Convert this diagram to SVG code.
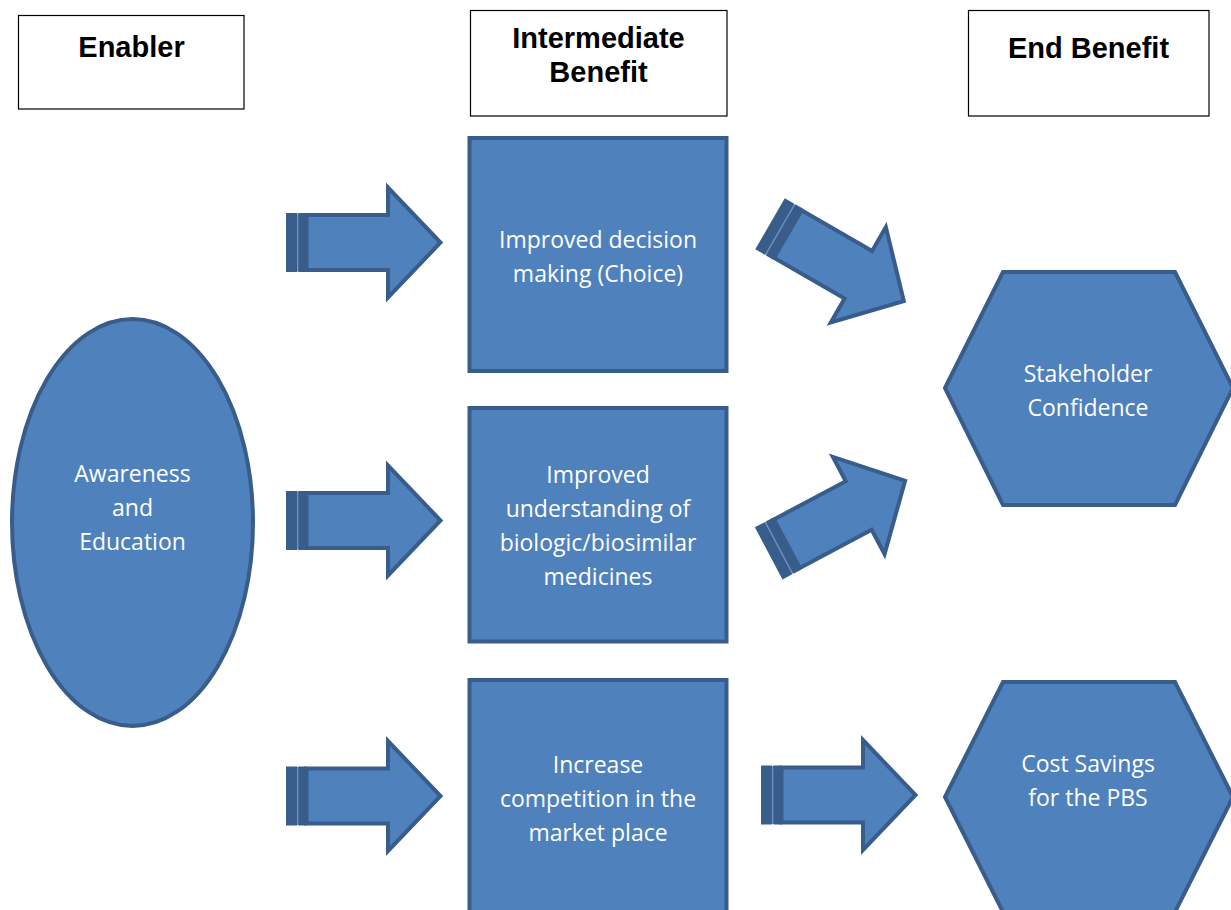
<svg xmlns="http://www.w3.org/2000/svg" width="1231" height="910" viewBox="0 0 1231 910">
<style>
.hdr{fill:#fff;stroke:#000;stroke-width:1.2}
.ht{font-family:"Liberation Sans",Arial,sans-serif;font-weight:bold;font-size:29px;fill:#000;text-anchor:middle}
.shape{fill:#4F81BD;stroke:#385D8A;stroke-width:4}
.bt{font-family:"Open Sans",sans-serif;font-size:23px;fill:#fff;text-anchor:middle}
.stripe{fill:#385D8A}
.gap{fill:#6F93C6}
.abody{fill:#4F81BD;stroke:#385D8A;stroke-width:4;stroke-linejoin:miter}
</style>
<defs>
<g id="sarrow">
<rect class="gap" x="-68" y="-29" width="2.5" height="58"/>
<rect class="stripe" x="-78.5" y="-29.5" width="11" height="59"/>
<rect class="stripe" x="-66.2" y="-29.5" width="8.5" height="59"/>
<path class="abody" d="M-58,-27.5 L23.5,-27.5 L23.5,-55 L76,0 L23.5,55 L23.5,27.5 L-58,27.5 Z"/>
</g>
</defs>
<rect width="1231" height="910" fill="#fff"/>

<g id="hdr-enabler">
<rect class="hdr" x="18.5" y="15.5" width="225.5" height="93.5"/>
<text class="ht" x="131.5" y="57">Enabler</text>
</g>
<g id="hdr-intermediate">
<rect class="hdr" x="470.5" y="10.5" width="256.5" height="105.5"/>
<text class="ht" x="598.5" y="48">Intermediate</text>
<text class="ht" x="598.5" y="82">Benefit</text>
</g>
<g id="hdr-end">
<rect class="hdr" x="968.5" y="10.5" width="240.5" height="105.5"/>
<text class="ht" x="1088.5" y="58">End Benefit</text>
</g>

<g id="connectors">
<use href="#sarrow" transform="translate(364.5,242.5)"/>
<use href="#sarrow" transform="translate(364.5,520.5)"/>
<use href="#sarrow" transform="translate(364.5,796)"/>
<use href="#sarrow" transform="translate(839.5,795)"/>
<use href="#sarrow" transform="translate(838,263) rotate(30)"/>
<use href="#sarrow" transform="translate(838,516.5) rotate(-28)"/>
</g>

<g id="awareness">
<ellipse class="shape" cx="132.5" cy="522.5" rx="120.5" ry="203.5"/>
<text class="bt" x="132.5" y="482">Awareness</text>
<text class="bt" x="132.5" y="516">and</text>
<text class="bt" x="132.5" y="550">Education</text>
</g>

<g id="decision">
<rect class="shape" x="469.5" y="138" width="257" height="233"/>
<text class="bt" x="598" y="248">Improved decision</text>
<text class="bt" x="598" y="282">making (Choice)</text>
</g>

<g id="understanding">
<rect class="shape" x="469.5" y="408" width="257" height="233.5"/>
<text class="bt" x="598" y="483">Improved</text>
<text class="bt" x="598" y="517">understanding of</text>
<text class="bt" x="598" y="551">biologic/biosimilar</text>
<text class="bt" x="598" y="585">medicines</text>
</g>

<g id="competition">
<rect class="shape" x="469.5" y="680" width="257" height="240"/>
<text class="bt" x="598" y="773">Increase</text>
<text class="bt" x="598" y="807">competition in the</text>
<text class="bt" x="598" y="841">market place</text>
</g>

<g id="confidence">
<polygon class="shape" points="945,388 1003,272 1175,272 1233,388 1175,505 1003,505"/>
<text class="bt" x="1088" y="382">Stakeholder</text>
<text class="bt" x="1088" y="416">Confidence</text>
</g>

<g id="savings">
<polygon class="shape" points="945,797 1003,682 1175,682 1233,797 1175,912 1003,912"/>
<text class="bt" x="1088" y="772">Cost Savings</text>
<text class="bt" x="1088" y="806">for the PBS</text>
</g>
</svg>
